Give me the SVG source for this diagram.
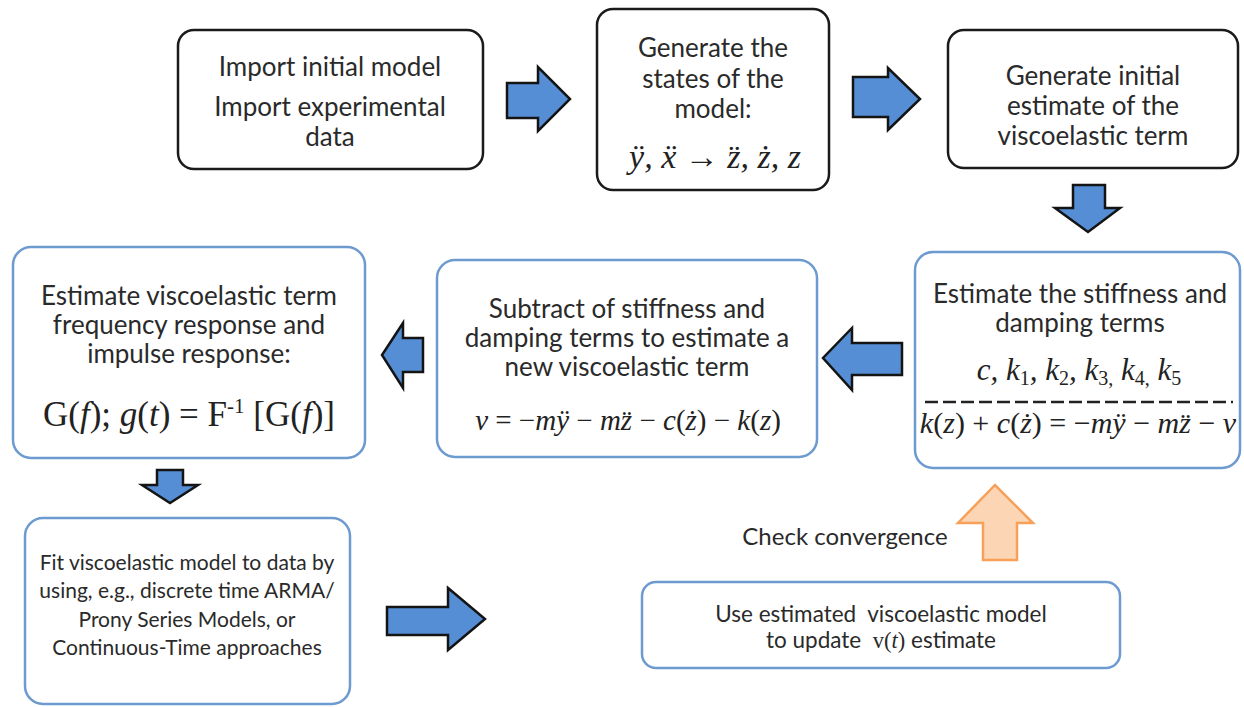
<svg xmlns="http://www.w3.org/2000/svg" width="1244" height="707" viewBox="0 0 1244 707">
<style>
.bk{fill:#fff;stroke:#1a1a1a;stroke-width:2.5}
.bl{fill:#fff;stroke:#6d9bd0;stroke-width:2.5}
.t{font-family:Lato,"Open Sans",sans-serif;font-size:26px;fill:#2a2a2a;text-anchor:middle}
.m{font-family:"Liberation Serif","Times New Roman",serif;fill:#222;text-anchor:middle}
.i{font-style:italic}
.ar{fill:#558ed5;stroke:#141414;stroke-width:2.5;stroke-linejoin:miter}
.or{fill:#fcd5b5;stroke:#f7a05a;stroke-width:2.5}
</style>
<rect width="1244" height="707" fill="#fff"/>
<g id="connectors">
<polygon class="ar" points="507,83 538,83 538,67 570,99 538,131 538,118 507,118"/>
<polygon class="ar" points="853,77 888,77 888,68 920,99 888,130 888,117 853,117"/>
<polygon class="ar" points="1073,185 1105,185 1105,208 1120,208 1088,232 1055,208 1073,208"/>
<polygon class="ar" points="902,343 852,343 852,328 823,358 852,390 852,375 902,375"/>
<polygon class="ar" points="423,338 403,338 403,323 382,355 403,388 403,372 423,372"/>
<polygon class="ar" points="157,470 183,470 183,485 198,485 170,503 142,485 157,485"/>
<polygon class="ar" points="387,607 448,607 448,588 485,619 448,650 448,635 387,635"/>
<polygon class="or" points="983,560 1017,560 1017,523 1033,523 995,485 958,523 983,523"/>
<text class="t" x="845" y="545" style="font-size:24px">Check convergence</text>
</g>
<g id="n1">
<rect class="bk" x="178" y="30" width="305" height="139" rx="16"/>
<text class="t" x="330" y="76">Import initial model</text>
<text class="t" x="330" y="116">Import experimental</text>
<text class="t" x="330" y="146">data</text>
</g>
<g id="n2">
<rect class="bk" x="597" y="9" width="232" height="181" rx="16"/>
<text class="t" x="713" y="57">Generate the</text>
<text class="t" x="713" y="88">states of the</text>
<text class="t" x="713" y="118">model:</text>
<text class="m i" x="715" y="168" style="font-size:34px">ÿ, ẍ → z̈, ż, z</text>
</g>
<g id="n3">
<rect class="bk" x="948" y="30" width="290" height="138" rx="16"/>
<text class="t" x="1093" y="85">Generate initial</text>
<text class="t" x="1093" y="115">estimate of the</text>
<text class="t" x="1093" y="145">viscoelastic term</text>
</g>
<g id="n4">
<rect class="bl" x="915" y="252" width="325" height="216" rx="18"/>
<text class="t" x="1080" y="303">Estimate the stiffness and</text>
<text class="t" x="1080" y="332">damping terms</text>
<text class="m i" x="1079" y="380" style="font-size:31px">c, k<tspan font-style="normal" font-size="20" dy="5">1</tspan><tspan dy="-5">, k</tspan><tspan font-style="normal" font-size="20" dy="5">2</tspan><tspan dy="-5">, k</tspan><tspan font-style="normal" font-size="20" dy="5">3,</tspan><tspan dy="-5"> k</tspan><tspan font-style="normal" font-size="20" dy="5">4,</tspan><tspan dy="-5"> k</tspan><tspan font-style="normal" font-size="20" dy="5">5</tspan></text>
<line x1="925" y1="402" x2="1233" y2="402" stroke="#222" stroke-width="2.5" stroke-dasharray="13 5"/>
<text class="m" x="1078" y="433" style="font-size:30px"><tspan class="i">k</tspan>(<tspan class="i">z</tspan>) + <tspan class="i">c</tspan>(<tspan class="i">ż</tspan>) = −<tspan class="i">mÿ</tspan> − <tspan class="i">mz̈</tspan> − <tspan class="i">v</tspan></text>
</g>
<g id="n5">
<rect class="bl" x="437" y="260" width="380" height="197" rx="18"/>
<text class="t" x="627" y="318">Subtract of stiffness and</text>
<text class="t" x="627" y="347">damping terms to estimate a</text>
<text class="t" x="627" y="376">new viscoelastic term</text>
<text class="m" x="628" y="430" style="font-size:29px"><tspan class="i">v</tspan> = −<tspan class="i">mÿ</tspan> − <tspan class="i">mz̈</tspan> − <tspan class="i">c</tspan>(<tspan class="i">ż</tspan>) − <tspan class="i">k</tspan>(<tspan class="i">z</tspan>)</text>
</g>
<g id="n6">
<rect class="bl" x="13" y="247" width="352" height="211" rx="18"/>
<text class="t" x="189" y="305">Estimate viscoelastic term</text>
<text class="t" x="189" y="334">frequency response and</text>
<text class="t" x="189" y="363">impulse response:</text>
<text class="m" x="189" y="426" style="font-size:35px">G(<tspan class="i">f</tspan>); <tspan class="i">g</tspan>(<tspan class="i">t</tspan>) = F<tspan font-size="21" dy="-13">-1</tspan><tspan dy="13"> [G(</tspan><tspan class="i">f</tspan>)]</text>
</g>
<g id="n7">
<rect class="bl" x="25" y="518" width="325" height="186" rx="18"/>
<text class="t" x="187" y="570" style="font-size:21px">Fit viscoelastic model to data by</text>
<text class="t" x="187" y="598" style="font-size:21px">using, e.g., discrete time ARMA/</text>
<text class="t" x="187" y="627" style="font-size:21px">Prony Series Models, or</text>
<text class="t" x="187" y="655" style="font-size:21px">Continuous-Time approaches</text>
</g>
<g id="n8">
<rect class="bl" x="642" y="582" width="478" height="86" rx="14"/>
<text class="t" x="881" y="622" style="font-size:22.5px" xml:space="preserve">Use estimated  viscoelastic model</text>
<text class="t" x="881" y="648" style="font-size:22.5px" xml:space="preserve">to update  <tspan font-family="Liberation Serif">v(</tspan><tspan class="i" font-family="Liberation Serif">t</tspan><tspan font-family="Liberation Serif">)</tspan> estimate</text>
</g>
</svg>
